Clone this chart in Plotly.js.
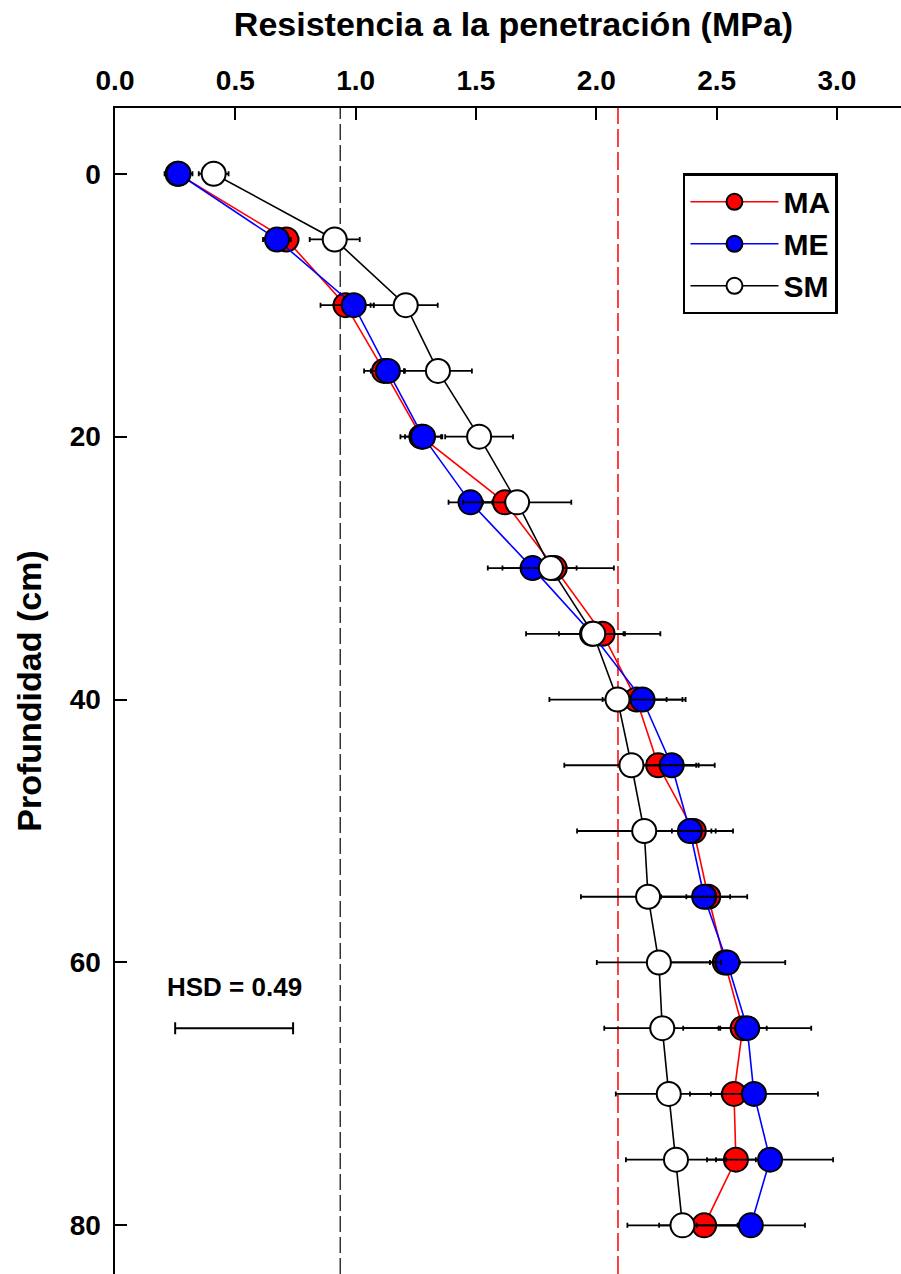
<!DOCTYPE html>
<html>
<head>
<meta charset="utf-8">
<script src="https://cdn.plot.ly/plotly-3.0.1.min.js"></script>
<style>html,body{margin:0;padding:0;background:#fff;}#chart{width:901px;height:1274px;}</style>
</head>
<body>
<div id="chart"></div>
<script>
// Depth (cm)
var depth = [0,5,10,15,20,25,30,35,40,45,50,55,60,65,70,75,80];
// Penetration resistance (MPa)
var maVals = [0.260,0.712,0.958,1.118,1.273,1.620,1.827,2.026,2.167,2.257,2.405,2.465,2.534,2.608,2.572,2.580,2.448];
var meVals = [0.264,0.673,0.992,1.134,1.280,1.477,1.735,1.982,2.192,2.313,2.389,2.448,2.544,2.627,2.655,2.722,2.642];
var smVals = [0.410,0.913,1.208,1.342,1.513,1.671,1.811,1.987,2.088,2.146,2.199,2.215,2.260,2.274,2.301,2.331,2.358];
// Error bars (MPa)
var maErr = [0.050,0.050,0.104,0.083,0.087,0.091,0.091,0.087,0.125,0.158,0.091,0.091,0.062,0.100,0.096,0.083,0.187];
var meErr = [0.058,0.058,0.083,0.071,0.075,0.091,0.125,0.137,0.166,0.179,0.179,0.179,0.241,0.266,0.266,0.262,0.225];
var smErr = [0.062,0.104,0.133,0.141,0.141,0.225,0.262,0.279,0.283,0.279,0.279,0.279,0.258,0.241,0.220,0.208,0.229];
// Reference lines and HSD
var refBlack = 0.936;
var refRed = 2.09;
var hsd = 0.49;
var hsdStart = 0.25;
var hsdDepth = 65;
var seriesNames = ['MA','ME','SM'];

var FONT = 'Liberation Sans, Arial, Helvetica, sans-serif';

function mk(name, vals, err, lineColor, fill) {
  return {
    type: 'scatter', mode: 'lines+markers', name: name,
    x: vals, y: depth,
    line: {color: lineColor, width: 1.6},
    marker: {size: 24, color: fill, line: {color: '#000', width: 2}},
    error_x: {type: 'data', array: err, visible: true, color: '#000', thickness: 1.8, width: 2.5}
  };
}

var traces = [
  mk(seriesNames[0], maVals, maErr, '#ff0000', '#ff0000'),
  mk(seriesNames[1], meVals, meErr, '#0000ff', '#0000ff'),
  mk(seriesNames[2], smVals, smErr, '#000000', '#ffffff'),
  {
    type: 'scatter', mode: 'markers', showlegend: false, hoverinfo: 'skip',
    x: [hsdStart + hsd / 2], y: [hsdDepth],
    marker: {size: 1, color: 'rgba(0,0,0,0)'},
    error_x: {type: 'data', array: [hsd / 2], visible: true, color: '#000', thickness: 2, width: 6}
  }
];

var layout = {
  width: 901, height: 1274,
  margin: {l: 115, r: 0, t: 108, b: 0},
  paper_bgcolor: '#fff', plot_bgcolor: '#fff',
  showlegend: true,
  font: {family: FONT, color: '#000', size: 29, weight: 'bold'},
  title: {
    text: 'Resistencia a la penetración (MPa)',
    font: {family: FONT, size: 34, color: '#000', weight: 'bold'},
    xref: 'paper', x: 0.507, xanchor: 'center',
    yref: 'container', y: 1 - 24 / 1274, yanchor: 'middle'
  },
  xaxis: {
    side: 'top', range: [0, 3.266], tick0: 0, dtick: 0.5, tickformat: '.1f',
    ticks: 'inside', ticklen: 12, tickwidth: 2, tickcolor: '#000',
    showline: true, linewidth: 2.5, linecolor: '#000', mirror: false,
    showgrid: false, zeroline: false,
    tickfont: {family: FONT, size: 28, color: '#000', weight: 'bold'},
    ticklabelstandoff: 4
  },
  yaxis: {
    range: [83.7, -5], tick0: 0, dtick: 20,
    ticks: 'inside', ticklen: 12, tickwidth: 2, tickcolor: '#000',
    showline: true, linewidth: 2.5, linecolor: '#000', mirror: false,
    showgrid: false, zeroline: false,
    tickfont: {family: FONT, size: 28, color: '#000', weight: 'bold'},
    ticklabelstandoff: 6,
    title: {text: 'Profundidad (cm)', font: {family: FONT, size: 34, color: '#000', weight: 'bold'}, standoff: 18}
  },
  legend: {
    x: 0.7226, y: 0.944, xanchor: 'left', yanchor: 'top',
    bgcolor: '#fff', bordercolor: '#000', borderwidth: 2.5,
    font: {family: FONT, size: 30, color: '#000', weight: 'bold'},
    itemwidth: 88, tracegroupgap: 0
  },
  shapes: [
    {type: 'line', xref: 'x', yref: 'paper', x0: refBlack, x1: refBlack, y0: 0, y1: 1,
     line: {color: '#333', width: 1.5, dash: '16px,5px'}, layer: 'below'},
    {type: 'line', xref: 'x', yref: 'paper', x0: refRed, x1: refRed, y0: 0, y1: 1,
     line: {color: '#ff0000', width: 1.5, dash: '18px,5px'}, layer: 'below'}
  ],
  annotations: [
    {x: hsdStart + hsd / 2, y: hsdDepth - 3.1, xref: 'x', yref: 'y', showarrow: false,
     text: 'HSD = ' + hsd.toFixed(2), font: {family: FONT, size: 26, color: '#000', weight: 'bold'}}
  ]
};

Plotly.newPlot('chart', traces, layout, {displayModeBar: false, staticPlot: true});
</script>
</body>
</html>
